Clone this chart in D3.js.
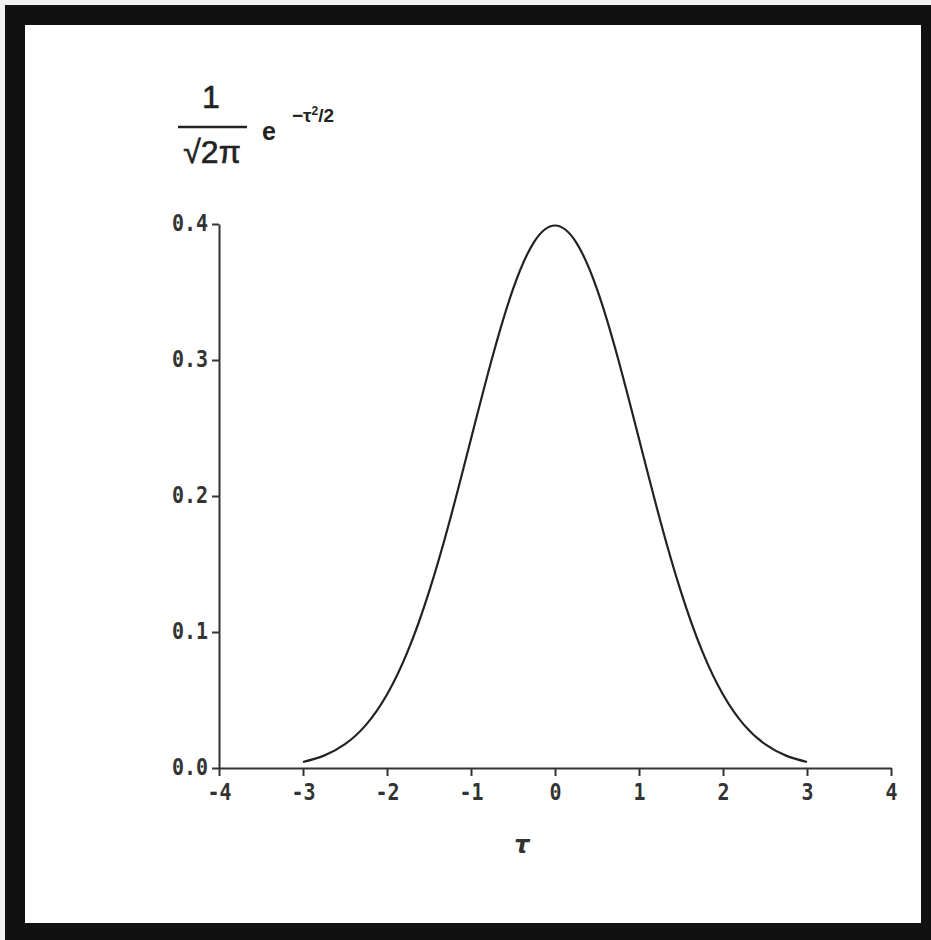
<!DOCTYPE html>
<html>
<head>
<meta charset="utf-8">
<script src="https://cdn.jsdelivr.net/npm/d3@7/dist/d3.min.js"></script>
<style>
  html, body { margin: 0; padding: 0; background: #f2f2f2; }
  svg { display: block; }
</style>
</head>
<body>
<svg id="chart" width="931" height="940"></svg>
<script>
// Values
const tauValues = [-3, -2.75, -2.5, -2.25, -2, -1.75, -1.5, -1.25, -1, -0.75, -0.5, -0.25, 0,
                   0.25, 0.5, 0.75, 1, 1.25, 1.5, 1.75, 2, 2.25, 2.5, 2.75, 3];
const densityValues = [0.0044, 0.0091, 0.0175, 0.0317, 0.054, 0.0863, 0.1295, 0.1826, 0.242, 0.3011, 0.3521, 0.3867, 0.3989,
                       0.3867, 0.3521, 0.3011, 0.242, 0.1826, 0.1295, 0.0863, 0.054, 0.0317, 0.0175, 0.0091, 0.0044];
const xTicks = [-4, -3, -2, -1, 0, 1, 2, 3, 4];
const yTicks = [0.0, 0.1, 0.2, 0.3, 0.4];

const svg = d3.select("#chart");

// frame
svg.append("rect").attr("x", 5).attr("y", 5).attr("width", 926).attr("height", 935).attr("fill", "#111");
svg.append("rect").attr("x", 25).attr("y", 25).attr("width", 896).attr("height", 898).attr("fill", "#fff");

const x = d3.scaleLinear().domain([-4, 4]).range([219, 891]);
const y = d3.scaleLinear().domain([0, 0.4]).range([768, 224]);

const tickFont = "'DejaVu Sans Mono', 'Liberation Mono', monospace";

function styleTickText(sel) {
  sel.attr("font-family", tickFont).attr("font-size", 20)
    .attr("fill", "#333").attr("font-weight", "bold")
    .attr("transform", "scale(1,1.15)");
}

// x axis
const xAxis = d3.axisBottom(x).tickValues(xTicks).tickSize(8).tickSizeOuter(0).tickPadding(6)
  .tickFormat(d => d < 0 ? "-" + Math.abs(d) : String(d));
const gx = svg.append("g").attr("transform", `translate(0,${y(0)})`).call(xAxis);
gx.select(".domain").attr("stroke", "#333").attr("stroke-width", 2);
gx.selectAll(".tick line").attr("stroke", "#333").attr("stroke-width", 2);
gx.selectAll(".tick text").call(styleTickText);

// y axis
const yAxis = d3.axisLeft(y).tickValues(yTicks).tickSize(7).tickSizeOuter(0).tickPadding(4)
  .tickFormat(d3.format(".1f"));
const gy = svg.append("g").attr("transform", `translate(${x(-4)},0)`).call(yAxis);
gy.select(".domain").attr("stroke", "#333").attr("stroke-width", 2);
gy.selectAll(".tick line").attr("stroke", "#333").attr("stroke-width", 2);
gy.selectAll(".tick text").call(styleTickText).attr("dy", "0.28em");

// curve
const data = tauValues.map((t, i) => ({ t, v: densityValues[i] }));
const line = d3.line().x(d => x(d.t)).y(d => y(d.v)).curve(d3.curveNatural);
svg.append("path").datum(data).attr("d", line).attr("fill", "none")
  .attr("stroke", "#222").attr("stroke-width", 2.2);

// x label
svg.append("text").attr("x", 522).attr("y", 853).attr("text-anchor", "middle")
  .attr("font-family", "'DejaVu Sans', sans-serif").attr("font-style", "italic")
  .attr("font-weight", "bold").attr("font-size", 24).attr("fill", "#333").text("τ");

// y label formula
const lf = "'Liberation Sans', Arial, sans-serif";
const yl = svg.append("g").attr("fill", "#222");
yl.append("text").attr("x", 211).attr("y", 108).attr("text-anchor", "middle")
  .attr("font-family", lf).attr("font-size", 32).attr("stroke", "#222").attr("stroke-width", 0.6).text("1");
yl.append("line").attr("x1", 178).attr("x2", 247).attr("y1", 127).attr("y2", 127)
  .attr("stroke", "#222").attr("stroke-width", 2.5);
yl.append("text").attr("x", 212).attr("y", 163).attr("text-anchor", "middle")
  .attr("font-family", lf).attr("font-size", 32).attr("stroke", "#222").attr("stroke-width", 0.6).text("√2π");
yl.append("text").attr("x", 262).attr("y", 140)
  .attr("font-family", lf).attr("font-size", 25).attr("font-weight", "bold").text("e");
const sup = yl.append("text").attr("x", 292).attr("y", 122)
  .attr("font-family", lf).attr("font-size", 19).attr("font-weight", "bold");
sup.append("tspan").text("−τ");
sup.append("tspan").attr("font-size", 12).attr("dy", -7).text("2");
sup.append("tspan").attr("dy", 7).text("/2");
</script>
</body>
</html>
